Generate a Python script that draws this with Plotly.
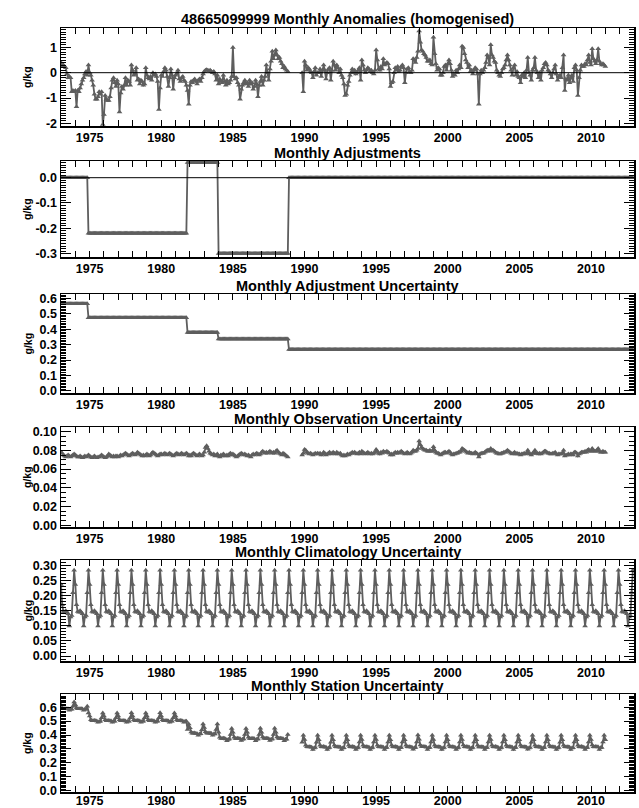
import numpy as np
import plotly.graph_objects as go

# ---------------- data ----------------
# Monthly anomalies (g/kg), Jan..Dec per year; None = missing
anom = {
    1973: [0.40, 0.25, 0.30, 0.25, 0.20, -0.05, -0.20, -0.15, -0.20, -0.75, -0.70, -0.75],
    1974: [-0.70, -1.35, -0.70, -0.75, -0.60, -0.45, -0.30, -0.20, -0.05, 0.05, -0.10, 0.30],
    1975: [0.00, -0.10, -0.30, -0.50, -0.85, -1.05, -1.05, -0.95, -0.75, -0.85, -0.75, -2.05],
    1976: [-1.65, -0.90, -1.05, -1.10, -1.10, -0.95, -0.60, -0.30, -0.20, -0.40, -0.55, -0.30],
    1977: [-0.45, -1.55, -0.80, -0.55, -0.65, -0.50, -0.20, -0.50, -0.30, -0.35, -0.50, 0.30],
    1978: [0.10, -0.10, -0.05, 0.20, -0.30, -0.25, -0.45, -0.30, -0.35, -0.50, -0.45, 0.20],
    1979: [-0.10, -0.20, -0.25, -0.15, -0.30, 0.00, -0.10, -0.05, -0.15, -0.35, -1.45, -0.60],
    1980: [-0.10, -0.15, 0.05, 0.20, 0.10, -0.15, -0.55, -0.20, 0.15, -0.10, -0.65, -0.20],
    1981: [-0.10, -0.05, 0.10, -0.25, -0.35, -0.20, -0.15, -0.30, -0.35, -0.50, -0.70, -1.25],
    1982: [-0.50, -0.35, -0.40, -0.30, -0.25, -0.35, -0.45, -0.30, -0.25, -0.35, -0.20, -0.05],
    1983: [0.05, 0.10, 0.12, 0.10, 0.08, 0.10, 0.05, 0.00, 0.05, -0.05, -0.30, -0.10],
    1984: [-0.45, -0.25, -0.35, -0.40, -0.10, -0.35, -0.50, -0.30, -0.45, -0.40, -0.30, -0.15],
    1985: [1.00, -0.15, -0.25, -0.20, -0.40, -0.50, -1.05, -0.65, -0.50, -0.40, -0.30, -0.45],
    1986: [-0.40, -0.55, -0.30, -0.45, -0.40, -0.65, -0.55, -0.30, -0.45, -0.95, -0.50, -0.35],
    1987: [-0.15, -0.50, -0.30, -0.15, 0.30, 0.00, -0.30, 0.15, 0.45, 0.85, 0.55, 0.70],
    1988: [0.90, 0.70, 0.55, 0.60, 0.45, 0.35, 0.20, 0.25, 0.15, 0.10, 0.05, None],
    1989: [None, None, None, None, None, None, None, None, None, None, 0.00, -0.75],
    1990: [0.45, 0.30, 0.10, 0.20, 0.15, 0.05, 0.00, -0.20, 0.05, 0.20, -0.10, 0.00],
    1991: [0.00, 0.15, -0.15, 0.10, 0.30, 0.10, -0.25, 0.00, 0.15, 0.20, -0.30, 0.10],
    1992: [0.45, 0.30, 0.10, 0.30, 0.20, 0.00, 0.15, -0.10, -0.20, -0.45, -0.90, -0.85],
    1993: [-0.50, -0.35, -0.10, 0.00, 0.15, 0.00, 0.10, -0.05, 0.00, 0.10, 0.20, -0.30],
    1994: [0.50, 0.30, 0.10, 0.00, 0.10, 0.20, 0.15, 0.05, 0.10, 0.00, -0.05, 0.10],
    1995: [0.90, 0.50, 0.15, 0.10, 0.25, 0.15, 0.55, 0.30, 0.35, 0.40, 0.35, 0.15],
    1996: [-0.55, -0.40, -0.35, 0.00, 0.20, 0.10, 0.25, 0.05, 0.10, 0.25, 0.30, 0.20],
    1997: [-0.40, 0.00, 0.15, 0.20, 0.05, 0.00, 0.10, 0.55, 0.50, 0.40, 0.60, 0.85],
    1998: [1.65, 1.20, 0.90, 0.85, 0.75, 0.70, 0.60, 0.45, 0.45, 0.50, 0.35, 0.30],
    1999: [1.40, 0.75, 0.35, 0.10, 0.20, 0.15, -0.10, -0.10, 0.00, 0.25, 0.30, 0.10],
    2000: [0.35, 0.50, 0.35, 0.10, -0.15, -0.05, -0.10, 0.10, 0.00, 0.15, 0.30, 0.20],
    2001: [1.05, 1.00, 0.75, 0.50, 0.40, 0.20, 0.30, 0.05, 0.10, -0.05, 0.10, 0.20],
    2002: [0.15, -0.05, -1.25, -0.05, 0.10, 0.00, 0.10, 0.20, 0.40, 0.70, 0.60, 0.30],
    2003: [1.10, 0.70, 0.60, 0.45, 0.40, 0.10, 0.00, -0.10, -0.15, 0.00, 0.15, 0.20],
    2004: [0.30, 0.50, 0.70, 0.50, 0.30, 0.10, -0.10, 0.20, 0.30, -0.10, 0.05, -0.15],
    2005: [-0.20, -0.40, -0.10, -0.15, 0.00, -0.20, 0.10, 0.60, 0.00, -0.10, -0.30, 0.10],
    2006: [0.20, 0.60, 0.10, 0.00, -0.20, 0.00, -0.30, 0.10, 0.20, 0.35, 0.40, 0.30],
    2007: [0.10, 0.05, -0.05, -0.20, 0.00, 0.15, 0.30, -0.05, -0.30, -0.15, -0.10, -0.20],
    2008: [0.20, 0.70, -0.70, -0.25, -0.30, -0.10, -0.40, -0.20, -0.10, -0.35, 0.20, 0.30],
    2009: [0.10, -0.90, -0.20, 0.10, 0.30, 0.25, 0.25, 0.35, 0.30, 0.50, 0.70, 0.40],
    2010: [0.30, 0.95, 0.55, 0.45, 0.35, 0.50, 0.95, 0.45, 0.35, 0.30, 0.35, 0.30],
    2011: [0.25],
}

# Monthly observation uncertainty (g/kg)
obs_unc = {
    1973: [0.078, 0.077, 0.075, 0.074, 0.073, 0.074, 0.075, 0.074, 0.073, 0.074, 0.075, 0.076],
    1974: [0.075, 0.074, 0.073, 0.073, 0.074, 0.073, 0.072, 0.073, 0.074, 0.073, 0.074, 0.075],
    1975: [0.074, 0.073, 0.072, 0.073, 0.074, 0.073, 0.072, 0.073, 0.073, 0.074, 0.075, 0.074],
    1976: [0.073, 0.072, 0.073, 0.074, 0.076, 0.075, 0.074, 0.073, 0.074, 0.073, 0.074, 0.074],
    1977: [0.073, 0.074, 0.075, 0.074, 0.075, 0.076, 0.077, 0.076, 0.075, 0.074, 0.075, 0.076],
    1978: [0.077, 0.076, 0.075, 0.076, 0.078, 0.077, 0.076, 0.075, 0.074, 0.075, 0.074, 0.075],
    1979: [0.076, 0.075, 0.074, 0.075, 0.077, 0.078, 0.077, 0.076, 0.075, 0.074, 0.075, 0.076],
    1980: [0.076, 0.075, 0.076, 0.077, 0.076, 0.075, 0.076, 0.077, 0.076, 0.075, 0.074, 0.075],
    1981: [0.076, 0.077, 0.076, 0.075, 0.076, 0.077, 0.076, 0.075, 0.076, 0.077, 0.076, 0.074],
    1982: [0.075, 0.074, 0.076, 0.077, 0.076, 0.075, 0.074, 0.075, 0.076, 0.075, 0.074, 0.075],
    1983: [0.078, 0.083, 0.085, 0.082, 0.079, 0.077, 0.076, 0.075, 0.076, 0.074, 0.075, 0.076],
    1984: [0.074, 0.073, 0.075, 0.074, 0.076, 0.075, 0.074, 0.075, 0.074, 0.076, 0.077, 0.075],
    1985: [0.076, 0.075, 0.074, 0.073, 0.074, 0.075, 0.076, 0.077, 0.076, 0.075, 0.076, 0.075],
    1986: [0.074, 0.075, 0.074, 0.073, 0.075, 0.076, 0.075, 0.076, 0.077, 0.076, 0.075, 0.076],
    1987: [0.078, 0.079, 0.078, 0.077, 0.078, 0.077, 0.078, 0.079, 0.078, 0.077, 0.078, 0.077],
    1988: [0.079, 0.080, 0.078, 0.077, 0.076, 0.075, 0.077, 0.076, 0.075, 0.074, 0.073, None],
    1989: [None, None, None, None, None, None, None, None, None, None, 0.075, 0.077],
    1990: [0.081, 0.080, 0.078, 0.077, 0.076, 0.077, 0.076, 0.075, 0.076, 0.077, 0.076, 0.077],
    1991: [0.076, 0.077, 0.075, 0.076, 0.078, 0.077, 0.075, 0.076, 0.077, 0.078, 0.076, 0.077],
    1992: [0.078, 0.077, 0.076, 0.078, 0.077, 0.076, 0.077, 0.075, 0.074, 0.075, 0.074, 0.075],
    1993: [0.076, 0.075, 0.076, 0.077, 0.078, 0.077, 0.078, 0.077, 0.076, 0.077, 0.078, 0.076],
    1994: [0.079, 0.078, 0.077, 0.076, 0.077, 0.078, 0.077, 0.076, 0.077, 0.076, 0.077, 0.078],
    1995: [0.081, 0.079, 0.077, 0.076, 0.078, 0.077, 0.079, 0.078, 0.078, 0.079, 0.078, 0.077],
    1996: [0.075, 0.076, 0.075, 0.077, 0.078, 0.077, 0.078, 0.077, 0.078, 0.079, 0.078, 0.077],
    1997: [0.076, 0.077, 0.078, 0.077, 0.076, 0.077, 0.078, 0.080, 0.079, 0.079, 0.080, 0.082],
    1998: [0.090, 0.086, 0.083, 0.082, 0.081, 0.080, 0.080, 0.079, 0.079, 0.080, 0.079, 0.079],
    1999: [0.084, 0.080, 0.078, 0.077, 0.077, 0.076, 0.075, 0.076, 0.077, 0.078, 0.078, 0.077],
    2000: [0.078, 0.079, 0.078, 0.076, 0.075, 0.076, 0.076, 0.077, 0.077, 0.078, 0.078, 0.079],
    2001: [0.082, 0.081, 0.080, 0.079, 0.078, 0.077, 0.078, 0.077, 0.077, 0.076, 0.077, 0.078],
    2002: [0.077, 0.076, 0.073, 0.076, 0.077, 0.077, 0.077, 0.078, 0.079, 0.080, 0.080, 0.079],
    2003: [0.082, 0.080, 0.080, 0.079, 0.078, 0.077, 0.077, 0.076, 0.076, 0.077, 0.077, 0.078],
    2004: [0.078, 0.079, 0.080, 0.079, 0.078, 0.077, 0.076, 0.077, 0.078, 0.076, 0.077, 0.076],
    2005: [0.076, 0.075, 0.076, 0.076, 0.077, 0.076, 0.077, 0.080, 0.077, 0.076, 0.075, 0.077],
    2006: [0.077, 0.080, 0.077, 0.077, 0.076, 0.077, 0.076, 0.077, 0.078, 0.079, 0.079, 0.078],
    2007: [0.077, 0.077, 0.076, 0.076, 0.077, 0.077, 0.078, 0.076, 0.075, 0.076, 0.076, 0.076],
    2008: [0.077, 0.080, 0.074, 0.075, 0.075, 0.076, 0.075, 0.076, 0.076, 0.075, 0.078, 0.078],
    2009: [0.077, 0.074, 0.076, 0.077, 0.078, 0.078, 0.078, 0.079, 0.078, 0.080, 0.081, 0.079],
    2010: [0.079, 0.082, 0.080, 0.079, 0.079, 0.080, 0.082, 0.079, 0.078, 0.078, 0.079, 0.078],
    2011: [0.078],
}

# Monthly climatology uncertainty (g/kg), Jan..Dec, same every year 1973-2012
clim_unc_month = [0.238, 0.170, 0.148, 0.145, 0.150, 0.145, 0.140, 0.100, 0.130, 0.135, 0.210, 0.285]

# Adjustment segments: (first year, first month) of each homogeneous period
adj_seg_start = [(1973, 1), (1974, 12), (1981, 11), (1984, 1), (1988, 12)]
adj_seg_value = [0.00, -0.22, 0.06, -0.30, 0.00]       # adjustment, g/kg
adj_unc_seg_value = [0.565, 0.475, 0.378, 0.337, 0.268]  # adjustment uncertainty, g/kg

FIRST_YEAR, LAST_YEAR = 1973, 2012

title_text = [
    "48665099999 Monthly Anomalies (homogenised)",
    "Monthly Adjustments",
    "Monthly Adjustment Uncertainty",
    "Monthly Observation Uncertainty",
    "Monthly Climatology Uncertainty",
    "Monthly Station Uncertainty",
]
x_tick_years = [1975, 1980, 1985, 1990, 1995, 2000, 2005, 2010]

# ---------------- assemble monthly series ----------------
def flatten(d):
    xs, ys = [], []
    for yr in sorted(d):
        for m, v in enumerate(d[yr]):
            xs.append(yr + m / 12.0)
            ys.append(np.nan if v is None else v)
    return np.array(xs), np.array(ys)

x_an, y_an = flatten(anom)
x_ob, y_ob = flatten(obs_unc)

x_full = np.array([yr + m / 12.0 for yr in range(FIRST_YEAR, LAST_YEAR + 1) for m in range(12)])
y_clim = np.array([clim_unc_month[m] for yr in range(FIRST_YEAR, LAST_YEAR + 1) for m in range(12)])

seg_x0 = [yr + (mo - 1) / 12.0 for yr, mo in adj_seg_start]
seg_idx = np.searchsorted(seg_x0, x_full + 1e-9, side="right") - 1
y_adj = np.array(adj_seg_value)[seg_idx]
y_adj_unc = np.array(adj_unc_seg_value)[seg_idx]

# station uncertainty: combination in quadrature of the three components
n_st = len(x_ob)
y_st = np.sqrt(y_adj_unc[:n_st] ** 2 + y_ob ** 2 + y_clim[:n_st] ** 2)

series = [
    (x_an, y_an),
    (x_full, y_adj),
    (x_full, y_adj_unc),
    (x_ob, y_ob),
    (x_full, y_clim),
    (x_ob, y_st),
]

# ---------------- layout ----------------
W, H = 639, 808
X_L, X_R = 61, 634
panels_px = [(28, 126), (161, 257), (294, 393), (427, 527), (560, 661), (694, 792)]
y_ranges = [(-2.107, 1.767), (-0.3135, 0.066), (-0.013, 0.628),
            (-0.002, 0.105), (-0.0166, 0.319), (-0.009, 0.6945)]
y_major = [1, 0.1, 0.1, 0.02, 0.05, 0.1]
y_minor = [0.1, 0.01, 0.01, 0.005, 0.01, 0.01]
y_ticks = [
    ([-2, -1, 0, 1], ["-2", "-1", "0", "1"]),
    ([-0.3, -0.2, -0.1, 0.0], ["-0.3", "-0.2", "-0.1", "0.0"]),
    ([0.0, 0.1, 0.2, 0.3, 0.4, 0.5, 0.6], ["0.0", "0.1", "0.2", "0.3", "0.4", "0.5", "0.6"]),
    ([0.0, 0.02, 0.04, 0.06, 0.08, 0.10], ["0.00", "0.02", "0.04", "0.06", "0.08", "0.10"]),
    ([0.0, 0.05, 0.10, 0.15, 0.20, 0.25, 0.30], ["0.00", "0.05", "0.10", "0.15", "0.20", "0.25", "0.30"]),
    ([0.0, 0.1, 0.2, 0.3, 0.4, 0.5, 0.6], ["0.0", "0.1", "0.2", "0.3", "0.4", "0.5", "0.6"]),
]

LINE = "#5e5e5e"
FONT = "Liberation Sans, Arial, Helvetica, sans-serif"
XTICKFONT = dict(family=FONT, size=12.5, weight="bold", color="black")
YTICKFONT = dict(family=FONT, size=12.5, weight="bold", color="black")

fig = go.Figure()
layout = dict(
    template="none",
    width=W, height=H,
    margin=dict(l=0, r=0, t=0, b=0, pad=0, autoexpand=False),
    paper_bgcolor="white", plot_bgcolor="white",
    showlegend=False,
    font=dict(family=FONT, size=12, color="black"),
)
annotations = []
shapes = []

for i, ((xs, ys), (top, bot)) in enumerate(zip(series, panels_px)):
    k = "" if i == 0 else str(i + 1)
    kl = str(i + 7)  # overlay axis carrying the y tick labels
    fig.add_trace(go.Scatter(
        x=xs, y=ys, mode="lines+markers",
        line=dict(color=LINE, width=1.8),
        marker=dict(symbol="triangle-up", size=5, color=LINE, line=dict(width=0)),
        connectgaps=False, hoverinfo="skip",
        xaxis="x" + k, yaxis="y" + k,
    ))
    # empty trace so that the label-carrying overlay axis is drawn
    fig.add_trace(go.Scatter(x=[], y=[], mode="lines", hoverinfo="skip",
                             xaxis="x" + k, yaxis="y" + kl))
    layout["xaxis" + k] = dict(
        domain=[X_L / W, X_R / W], range=[FIRST_YEAR, LAST_YEAR + 1],
        anchor="y" + k, showgrid=False, zeroline=False, automargin=False,
        showline=True, linecolor="black", linewidth=1.5, mirror="allticks",
        ticks="inside", ticklen=6, tickwidth=1, tickcolor="black",
        tickmode="linear", tick0=x_tick_years[0], dtick=5,
        tickfont=XTICKFONT, ticklabelstandoff=(-4 if i == 5 else -1),
        minor=dict(dtick=1, tick0=FIRST_YEAR, ticklen=4, tickwidth=1, tickcolor="black",
                   ticks="inside", showgrid=False),
    )
    layout["yaxis" + k] = dict(
        domain=[1 - bot / H, 1 - top / H], range=list(y_ranges[i]),
        anchor="x" + k, showgrid=False, zeroline=False, automargin=False,
        showline=True, linecolor="black", linewidth=1.5, mirror="allticks",
        ticks="inside", ticklen=10, tickwidth=1, tickcolor="black",
        tickmode="linear", tick0=0, dtick=y_major[i], showticklabels=False,
        minor=dict(dtick=y_minor[i], tick0=0, ticklen=5, tickwidth=1, tickcolor="black",
                   ticks="inside", showgrid=False),
    )
    tv, tt = y_ticks[i]
    layout["yaxis" + kl] = dict(
        domain=[1 - bot / H, 1 - top / H], range=list(y_ranges[i]),
        overlaying="y" + k, anchor="x" + k, side="left",
        showgrid=False, zeroline=False, automargin=False, showline=False,
        ticks="", tickmode="array", tickvals=tv, ticktext=tt, tickfont=YTICKFONT,
        ticklabelstandoff=3,
    )
    annotations.append(dict(
        text=title_text[i], x=(X_L + X_R) / 2 / W, y=1 - (top + 0.5) / H,
        xref="paper", yref="paper", xanchor="center", yanchor="bottom", borderpad=0,
        showarrow=False, font=dict(family=FONT, size=14.5, weight="bold", color="black"),
    ))
    annotations.append(dict(
        text="g/kg", x=27 / W, y=1 - (top + bot) / 2 / H, textangle=-90,
        xref="paper", yref="paper", xanchor="center", yanchor="middle",
        showarrow=False, font=dict(family=FONT, size=10.5, weight="bold", color="black"),
    ))
    if i in (0, 1):
        shapes.append(dict(type="line", xref="x" + k + " domain", yref="y" + k,
                           x0=0, x1=1, y0=0, y1=0, line=dict(color="black", width=1), layer="above"))

layout["annotations"] = annotations
layout["shapes"] = shapes
fig.update_layout(**layout)
fig.write_html("out.html", config={"displayModeBar": False, "staticPlot": True},
               post_script="document.body.style.margin='0';")
